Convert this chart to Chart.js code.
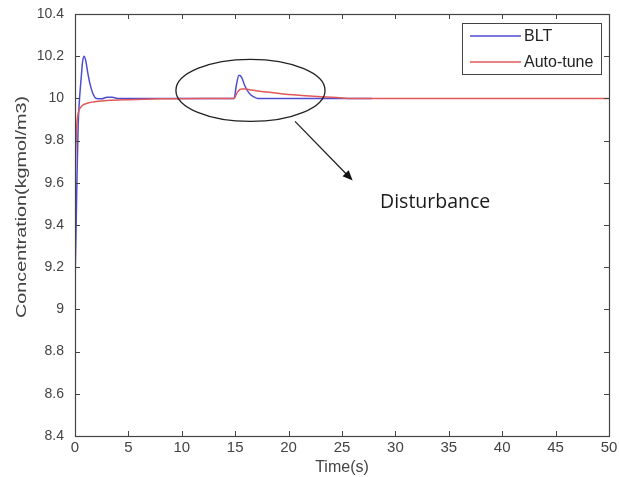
<!DOCTYPE html>
<html>
<head>
<meta charset="utf-8">
<script src="https://cdn.jsdelivr.net/npm/chart.js@4.4.1/dist/chart.umd.min.js"></script>
<style>
	html, body { margin: 0; padding: 0; background: #fff; }
	#wrap { width: 619px; height: 477px; position: relative; }
</style>
</head>
<body>
<div id="wrap"><canvas id="c" width="619" height="477"></canvas></div>
<script>
'use strict';

// Time (s) and concentration values
var bltTime = [0, 0.1, 0.2, 0.3, 0.4, 0.5, 0.6, 0.7, 0.85, 1.0, 1.2, 1.4, 1.7, 2.0, 2.5, 3.0, 3.5, 4.0, 6, 10, 14.9, 15.1, 15.35, 15.6, 15.9, 16.3, 16.7, 17.1, 20, 24, 27.8];
var bltConc = [9.12, 9.38, 9.66, 9.88, 9.98, 10.05, 10.11, 10.17, 10.2, 10.18, 10.12, 10.07, 10.02, 10.0, 9.998, 10.006, 10.005, 10.0, 9.999, 10.0, 10.0, 10.06, 10.11, 10.1, 10.06, 10.025, 10.008, 10.0, 10.0, 10.0, 10.0];

var autoTime = [0, 0.15, 0.3, 0.5, 0.8, 1.2, 2, 3, 5, 8, 12, 14.9, 15.2, 15.6, 16, 16.5, 17, 18, 19, 20, 21.5, 23, 24.5, 26, 30, 40, 50];
var autoConc = [9.62, 9.86, 9.93, 9.955, 9.97, 9.978, 9.985, 9.99, 9.994, 9.998, 10.0, 10.0, 10.03, 10.045, 10.044, 10.04, 10.036, 10.03, 10.024, 10.018, 10.013, 10.008, 10.004, 10.0, 10.0, 10.0, 10.0];

var xTicks = [0, 5, 10, 15, 20, 25, 30, 35, 40, 45, 50];
var yTicks = [8.4, 8.6, 8.8, 9, 9.2, 9.4, 9.6, 9.8, 10, 10.2, 10.4];

var yTitle = 'Concentration(kgmol/m3)';

// Annotation in data units: ellipse round the disturbance, arrow, label
var ellipse = { t: 16.43, c: 10.038, rt: 6.98, rc: 0.147 };
var arrow = { t0: 20.6, c0: 9.891, t1: 26.0, c1: 9.611 };
var note = { t: 28.56, c: 9.479, text: 'Disturbance' };

var sans = '"Liberation Sans", Arial, sans-serif';
var axisColor = '#444';

function toPoints(xs, ys) {
	return xs.map(function (x, i) {
		return { x: x, y: ys[i] };
	});
}

// MATLAB style box with inward ticks on all four sides
var boxPlugin = {
	id: 'box',
	afterDraw: function (chart) {
		var ctx = chart.ctx,
			a = chart.chartArea,
			xs = chart.scales.x,
			ys = chart.scales.y,
			len = 5;
		ctx.save();
		ctx.strokeStyle = axisColor;
		ctx.lineWidth = 1;
		ctx.beginPath();
		xTicks.forEach(function (v) {
			var px = Math.round(xs.getPixelForValue(v)) + 0.5;
			ctx.moveTo(px, a.bottom);
			ctx.lineTo(px, a.bottom - len);
			ctx.moveTo(px, a.top);
			ctx.lineTo(px, a.top + len);
		});
		yTicks.forEach(function (v) {
			var py = Math.round(ys.getPixelForValue(v)) + 0.5;
			ctx.moveTo(a.left, py);
			ctx.lineTo(a.left + len, py);
			ctx.moveTo(a.right, py);
			ctx.lineTo(a.right - len, py);
		});
		ctx.stroke();
		ctx.lineWidth = 1.2;
		ctx.strokeRect(Math.round(a.left) + 0.5, Math.round(a.top) + 0.5,
			Math.round(a.right - a.left), Math.round(a.bottom - a.top));
		ctx.restore();
	}
};

// Y axis title, stretched along its length like the source figure
var yTitlePlugin = {
	id: 'yTitle',
	afterDraw: function (chart) {
		var ctx = chart.ctx,
			a = chart.chartArea,
			w, sx;
		ctx.save();
		ctx.font = '14px ' + sans;
		w = ctx.measureText(yTitle).width;
		sx = 222 / w;
		ctx.translate(22, (a.top + a.bottom) / 2 - 18);
		ctx.rotate(-Math.PI / 2);
		ctx.scale(sx, 1);
		ctx.fillStyle = axisColor;
		ctx.textAlign = 'center';
		ctx.textBaseline = 'middle';
		ctx.fillText(yTitle, 0, 0);
		ctx.restore();
	}
};

// Legend box in the upper right corner of the plot
var legendPlugin = {
	id: 'boxLegend',
	afterDraw: function (chart) {
		var ctx = chart.ctx,
			a = chart.chartArea,
			right = a.right - 8,
			left = right - 139,
			top = a.top + 9,
			rowH = 26;
		ctx.save();
		ctx.fillStyle = '#fff';
		ctx.fillRect(left, top, right - left, 51);
		ctx.strokeStyle = axisColor;
		ctx.lineWidth = 1;
		ctx.strokeRect(left + 0.5, top + 0.5, right - left, 51);
		ctx.font = '16px ' + sans;
		ctx.textBaseline = 'middle';
		chart.data.datasets.forEach(function (ds, i) {
			var y = top + 13 + i * rowH;
			ctx.strokeStyle = ds.borderColor;
			ctx.lineWidth = 1.5;
			ctx.beginPath();
			ctx.moveTo(left + 8, y);
			ctx.lineTo(left + 59, y);
			ctx.stroke();
			ctx.fillStyle = '#222';
			ctx.fillText(ds.label, left + 62, y + 1);
		});
		ctx.restore();
	}
};

var notePlugin = {
	id: 'note',
	afterDraw: function (chart) {
		var ctx = chart.ctx,
			xs = chart.scales.x,
			ys = chart.scales.y,
			cx = xs.getPixelForValue(ellipse.t),
			cy = ys.getPixelForValue(ellipse.c),
			rx = xs.getPixelForValue(ellipse.t + ellipse.rt) - cx,
			ry = cy - ys.getPixelForValue(ellipse.c + ellipse.rc),
			x0 = xs.getPixelForValue(arrow.t0),
			y0 = ys.getPixelForValue(arrow.c0),
			x1 = xs.getPixelForValue(arrow.t1),
			y1 = ys.getPixelForValue(arrow.c1),
			ang = Math.atan2(y1 - y0, x1 - x0),
			head = 11;
		ctx.save();
		ctx.strokeStyle = '#222';
		ctx.lineWidth = 1.3;
		ctx.beginPath();
		ctx.ellipse(cx, cy, rx, ry, 0, 0, Math.PI * 2);
		ctx.stroke();

		ctx.beginPath();
		ctx.moveTo(x0, y0);
		ctx.lineTo(x1 - Math.cos(ang) * head * 0.8, y1 - Math.sin(ang) * head * 0.8);
		ctx.stroke();
		ctx.fillStyle = '#111';
		ctx.beginPath();
		ctx.moveTo(x1, y1);
		ctx.lineTo(x1 - head * Math.cos(ang - 0.4), y1 - head * Math.sin(ang - 0.4));
		ctx.lineTo(x1 - head * Math.cos(ang + 0.4), y1 - head * Math.sin(ang + 0.4));
		ctx.closePath();
		ctx.fill();

		ctx.font = '19.5px "Open Sans", "Liberation Sans", sans-serif';
		ctx.fillStyle = '#1a1a1a';
		ctx.textBaseline = 'alphabetic';
		ctx.fillText(note.text, xs.getPixelForValue(note.t), ys.getPixelForValue(note.c));
		ctx.restore();
	}
};

new Chart(document.getElementById('c'), {
	type: 'scatter',
	data: {
		datasets: [{
			label: 'BLT',
			data: toPoints(bltTime, bltConc),
			borderColor: '#4d4dd4',
			order: 1
		}, {
			label: 'Auto-tune',
			data: toPoints(autoTime, autoConc),
			borderColor: '#e25858',
			order: 0
		}]
	},
	options: {
		responsive: false,
		animation: false,
		layout: {
			padding: { left: 0, right: 10, top: 14, bottom: 0 }
		},
		datasets: {
			scatter: {
				showLine: true,
				pointRadius: 0,
				borderWidth: 1.5,
				cubicInterpolationMode: 'monotone'
			}
		},
		plugins: {
			legend: { display: false },
			tooltip: { enabled: false }
		},
		scales: {
			x: {
				type: 'linear',
				min: 0,
				max: 50,
				afterBuildTicks: function (axis) {
					axis.ticks = xTicks.map(function (v) { return { value: v }; });
				},
				afterFit: function (axis) {
					axis.height = 41;
					axis.paddingLeft = 0;
					axis.paddingRight = 0;
				},
				grid: { display: false, drawTicks: false },
				border: { display: false },
				ticks: {
					font: { family: sans, size: 15 },
					color: axisColor,
					padding: 3,
					maxRotation: 0
				},
				title: {
					display: true,
					text: 'Time(s)',
					font: { family: sans, size: 16 },
					color: axisColor,
					padding: { top: 0, bottom: 0 }
				}
			},
			y: {
				type: 'linear',
				min: 8.4,
				max: 10.4,
				afterBuildTicks: function (axis) {
					axis.ticks = yTicks.map(function (v) { return { value: v }; });
				},
				afterFit: function (axis) {
					axis.width = 75;
					axis.paddingTop = 0;
					axis.paddingBottom = 0;
				},
				grid: { display: false, drawTicks: false },
				border: { display: false },
				ticks: {
					font: { family: sans, size: 14 },
					color: axisColor,
					padding: 11,
					callback: function (v) { return String(parseFloat(v.toFixed(1))); }
				},
				title: { display: false }
			}
		}
	},
	plugins: [boxPlugin, yTitlePlugin, legendPlugin, notePlugin]
});
</script>
</body>
</html>
